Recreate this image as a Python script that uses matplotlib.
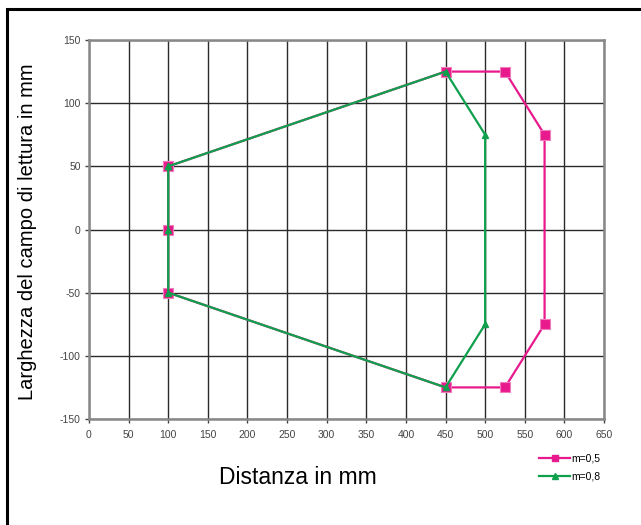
import matplotlib

matplotlib.use("Agg")
import matplotlib.pyplot as plt  # noqa: E402
from matplotlib.lines import Line2D  # noqa: E402
from matplotlib.patches import Rectangle  # noqa: E402

# Reading field outline for two magnifications
x_m05 = [100, 100, 100, 450, 525, 575, 575, 525, 450, 100]
y_m05 = [50, 0, -50, -125, -125, -75, 75, 125, 125, 50]
x_m08 = [100, 100, 100, 450, 500, 500, 450, 100]
y_m08 = [50, 0, -50, -125, -75, 75, 125, 50]

x_ticks = list(range(0, 651, 50))
y_ticks = list(range(-150, 151, 50))

MAGENTA = "#E8198C"
GREEN = "#0FA04E"

plt.rcParams["font.family"] = ["Liberation Sans", "DejaVu Sans"]
plt.rcParams["axes.unicode_minus"] = False

W, H = 641, 525
fig = plt.figure(figsize=(W / 100, H / 100), dpi=100)
fig.patches.append(Rectangle((7 / W, -0.1), 1.2, (H - 9) / H + 0.1,
                             transform=fig.transFigure, fill=False,
                             edgecolor="black", linewidth=2.2))

ax = fig.add_axes([89 / W, 106 / H, 515 / W, 379 / H])
ax.plot(x_m05, y_m05, color=MAGENTA, linewidth=1.6, marker="s",
        markersize=7, markerfacecolor=MAGENTA, markeredgecolor="#F07CBB",
        markeredgewidth=0.8, zorder=3)
ax.plot(x_m08, y_m08, color=GREEN, linewidth=1.6, marker="^",
        markersize=4.5, markerfacecolor=GREEN, markeredgecolor=GREEN, zorder=4)

ax.set_xlim(0, 650)
ax.set_ylim(-150, 150)
ax.set_xticks(x_ticks)
ax.set_yticks(y_ticks)
ax.grid(True, color="#2a2a2a", linewidth=1.0)
ax.set_axisbelow(True)
for sp in ax.spines.values():
    sp.set_color("#888888")
    sp.set_linewidth(1.8)
ax.tick_params(labelsize=7.5, colors="#444444", length=3, width=1)
ax.tick_params(axis="x", pad=5)
ax.tick_params(axis="y", pad=3)

fig.text(298 / W, 1 - 477 / H, "Distanza in mm", fontsize=16.5,
         ha="center", va="center")
fig.text(28 / W, 1 - 232 / H, "Larghezza del campo di lettura in mm", fontsize=14.5,
         rotation=90, ha="center", va="center")

handles = [
    Line2D([], [], color=MAGENTA, linewidth=1.6, marker="s", markersize=5, label="m=0,5"),
    Line2D([], [], color=GREEN, linewidth=1.6, marker="^", markersize=5, label="m=0,8"),
]
fig.legend(handles=handles, loc="upper left", bbox_to_anchor=(535 / W, 1 - 449 / H),
           frameon=False, fontsize=7.5, handlelength=3.0, handletextpad=0.1,
           labelspacing=0.8, borderaxespad=0)

fig.savefig("out.png", dpi=100)
